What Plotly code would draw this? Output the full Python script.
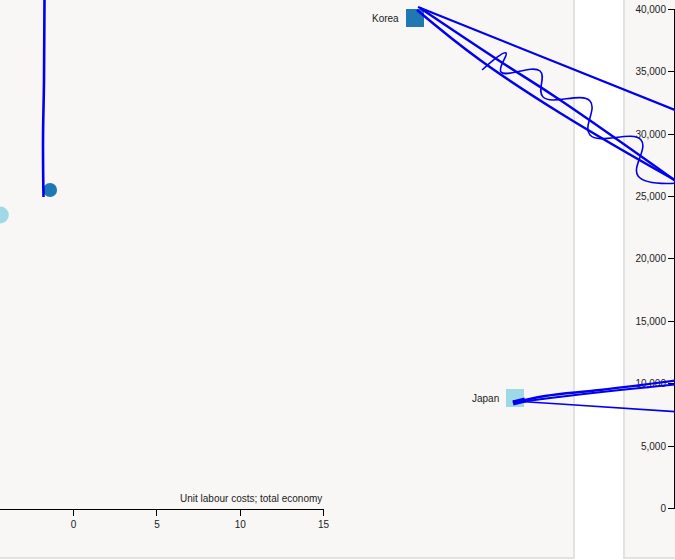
import plotly.graph_objects as go

# axis ticks
x_ticks = [0, 5, 10, 15]
y_ticks = [0, 5000, 10000, 15000, 20000, 25000, 30000, 35000, 40000]

# labelled countries (square markers)
countries = ["Korea", "Japan"]
country_ulc = [20.53, 26.54]
country_val = [39280, 8880]
country_colors = ["#1f77b4", "#9edae5"]

# unlabelled points (circles)
dot_ulc = [-1.41, -4.40]
dot_val = [25520, 23520]
dot_colors = ["#1f77b4", "#9edae5"]

# trails
trail_left_x = [-1.744, -1.774, -1.834, -1.804]
trail_left_y = [40880, 34320, 29520, 24960]

korea_top_x = [20.71, 37.06]
korea_top_y = [40160, 31440]
korea_mid_x = [20.83, 25.52, 29.25, 36.46]
korea_mid_y = [40080, 35920, 32720, 26000]
korea_low_x = [20.65, 24.44, 29.25, 36.46]
korea_low_y = [39920, 35920, 31680, 26080]
korea_wave_x = [24.56, 26.00, 25.70, 28.05, 28.23, 31.05, 31.05, 34.12, 33.94, 36.46]
korea_wave_y = [35120, 36480, 34960, 35040, 32960, 32640, 29920, 29520, 26640, 26080]

japan_a_x = [26.42, 28.35, 31.65, 36.46]
japan_a_y = [8480, 9040, 9520, 10320]
japan_b_x = [26.42, 28.65, 32.86, 36.46]
japan_b_y = [8480, 8880, 9520, 10000]
japan_c_x = [26.42, 29.25, 36.46]
japan_c_y = [8640, 8400, 7760]
japan_tip_x = [26.42, 27.14]
japan_tip_y = [8480, 8720]

TRAIL = "rgb(0,0,238)"
FONT = "Liberation Sans, Arial, sans-serif"

fig = go.Figure()

# keeps the visible axes alive
fig.add_trace(go.Scatter(x=[], y=[], xaxis="x", yaxis="y", showlegend=False))

fig.add_trace(go.Scatter(
    x=dot_ulc, y=dot_val, mode="markers", xaxis="x2", yaxis="y2",
    marker=dict(size=[14, 17], color=dot_colors, opacity=1, line=dict(width=0)),
    showlegend=False, hoverinfo="skip"))

fig.add_trace(go.Scatter(
    x=country_ulc, y=country_val, mode="markers", xaxis="x2", yaxis="y2",
    marker=dict(symbol="square", size=18, color=country_colors, opacity=1,
                line=dict(width=0)),
    text=countries, showlegend=False, hoverinfo="text"))

lines = [
    (trail_left_x, trail_left_y, 2.6, "spline"),
    (korea_top_x, korea_top_y, 2.2, "linear"),
    (korea_mid_x, korea_mid_y, 2.4, "spline"),
    (korea_low_x, korea_low_y, 2.4, "spline"),
    (korea_wave_x, korea_wave_y, 1.6, "spline"),
    (japan_a_x, japan_a_y, 2.4, "spline"),
    (japan_b_x, japan_b_y, 2, "spline"),
    (japan_c_x, japan_c_y, 1.6, "spline"),
    (japan_tip_x, japan_tip_y, 5, "linear"),
]
for lx, ly, w, shape in lines:
    fig.add_trace(go.Scatter(
        x=lx, y=ly, mode="lines", xaxis="x2", yaxis="y2",
        line=dict(color=TRAIL, width=w, shape=shape, smoothing=1.2),
        showlegend=False, hoverinfo="skip"))

for name, xv, yv in zip(countries, country_ulc, country_val):
    fig.add_annotation(x=xv, y=yv, xref="x2", yref="y2", text=name,
                       showarrow=False, xanchor="right", xshift=-14,
                       font=dict(size=10, color="#222", family=FONT))

fig.add_annotation(x=324 / 675, y=0.109, xref="paper", yref="paper",
                   text="Unit labour costs; total economy", showarrow=False,
                   xanchor="right", yanchor="middle",
                   font=dict(size=10, color="#222", family=FONT))

# panels
panel = dict(type="rect", xref="paper", yref="paper", layer="below",
             fillcolor="#f8f7f6", line=dict(color="#e2e2e2", width=2))
fig.add_shape(**panel, x0=-0.01, x1=574 / 675, y0=0.0036, y1=1.01)
fig.add_shape(**panel, x0=624 / 675, x1=1.01, y0=0.0036, y1=1.01)

tick_font = dict(size=10, color="#222", family=FONT)
fig.update_layout(
    width=675, height=560,
    margin=dict(l=0, r=0, t=0, b=0, pad=0, autoexpand=False),
    paper_bgcolor="white",
    plot_bgcolor="rgba(0,0,0,0)",
    showlegend=False,
    xaxis=dict(domain=[0, 323.5 / 675], range=[-4.42, 15], anchor="free",
               position=0.0911, tickvals=x_ticks, ticks="outside", ticklen=6,
               tickcolor="black", showline=True, linecolor="black",
               showgrid=False, zeroline=False, tickfont=tick_font,
               automargin=False, fixedrange=True),
    yaxis=dict(domain=[0.0911, 0.9839], range=[0, 40000], anchor="free",
               position=674 / 675, side="left", tickvals=y_ticks, tickformat=",",
               ticks="outside", ticklen=6, tickcolor="black", showline=True,
               linecolor="black", showgrid=False, zeroline=False,
               tickfont=tick_font, automargin=False, fixedrange=True),
    xaxis2=dict(domain=[0, 1], range=[-4.42, 36.16], anchor="y2",
                visible=False, fixedrange=True),
    yaxis2=dict(domain=[0, 1], range=[-4080, 40720], anchor="x2",
                visible=False, fixedrange=True),
)

# pin the figure to the window's top-left corner (no default body margin)
pin = (
    "document.documentElement.style.overflow='hidden';"
    "document.body.style.margin='0';"
    "document.body.style.overflow='hidden';"
    "var d=document.getElementById('{plot_id}');"
    "d.style.position='absolute';d.style.left='0px';d.style.top='0px';"
)
fig.write_html("out.html", config={"displayModeBar": False}, post_script=pin)
